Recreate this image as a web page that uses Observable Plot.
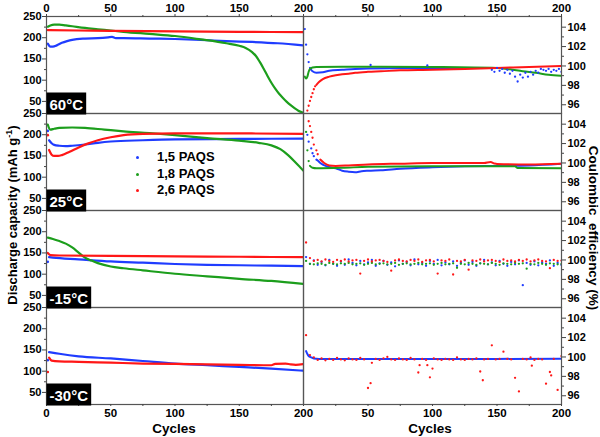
<!DOCTYPE html>
<html><head><meta charset="utf-8">
<script src="https://cdn.jsdelivr.net/npm/d3@7"></script>
<script src="https://cdn.jsdelivr.net/npm/@observablehq/plot@0.6"></script>
<style>
body{margin:0;background:#fff;}
#wrap{position:relative;width:600px;height:437px;font-family:Arial,"Liberation Sans",sans-serif;font-weight:bold;color:#000;overflow:hidden;}
#wrap svg{position:absolute;top:0;}
.ttl{position:absolute;white-space:pre;font-size:13px;font-weight:bold;line-height:1;}
.leg{position:absolute;font-size:13px;font-weight:bold;white-space:nowrap;}
.leg div{height:16.5px;line-height:16.5px;position:relative;padding-left:24px;}
.leg span{position:absolute;left:3px;top:7px;width:3px;height:3px;border-radius:50%;}
</style></head><body><div id="wrap"></div><script>
// ---------- categories ----------
const temps = ["60°C", "25°C", "-15°C", "-30°C"];
const seriesNames = ["1,5 PAQS", "1,8 PAQS", "2,6 PAQS"];
const [S15, S18, S26] = seriesNames;
const capTicks = [50, 100, 150, 200, 250];
const capMinor = [75, 125, 175, 225];
const ceTicks = [96, 98, 100, 102, 104];
const ceMinor = [97, 99, 101, 103];
const cycleTicksLeft = [0, 50, 100, 150, 200];
const cycleTicksRight = [50, 100, 150, 200];
const cycleMinor = [25, 75, 125, 175];

// ---------- discharge capacity (cycle, mAh/g) ----------
const cap60_15 = [[1,186],[3,179],[5,179],[8,182],[12,188],[16,192],[20,195],[30,198],[40,199],[48,201],[51,202],[54,199],[60,199],[80,198],[100,197],[120,195],[140,192],[160,190],[180,187],[200,182]];
const cap60_18 = [[1,226],[3,229],[6,231],[10,231],[15,229],[20,227],[30,223],[40,220],[50,217],[60,214],[80,209],[100,204],[120,196],[140,187],[150,181],[155,176],[160,166],[163,157],[166,143],[169,127],[172,110],[175,94],[178,80],[181,68],[184,58],[187,49],[190,41],[193,34],[196,28],[200,23]];
const cap60_26 = [[1,218],[25,217],[50,216],[100,215],[150,214],[200,213]];
const cap25_15 = [[2,187],[4,180],[6,176],[10,174],[15,173],[20,174],[30,177],[40,181],[50,184],[75,187],[100,189],[150,190],[200,191]];
const cap25_18 = [[1,224],[3,212],[6,214],[10,216],[20,217],[30,216],[45,212],[60,208],[80,204],[100,199],[125,192],[150,186],[165,181],[175,175],[182,166],[188,152],[194,134],[200,115]];
const cap25_26 = [[2,164],[4,153],[6,150],[9,150],[12,152],[18,160],[25,170],[32,179],[40,187],[50,194],[60,199],[75,202],[100,203],[150,203],[200,202]];
const cap15m_15 = [[2,140],[5,139],[25,135],[50,130],[75,127],[100,124],[125,122],[150,121],[175,120],[200,119]];
const cap15m_18 = [[1,186],[5,183],[10,178],[15,172],[20,163],[25,151],[30,139],[35,132],[40,126],[50,118],[60,114],[75,109],[100,101],[125,95],[150,89],[175,84],[200,77]];
const cap15m_26 = [[1,150],[3,145],[10,144],[50,143],[100,142],[150,141],[200,140]];
const cap30m_15 = [[2,145],[10,141],[25,135],[50,130],[75,124],[100,118],[125,114],[150,110],[175,106],[200,101]];
const cap30m_26 = [[2,132],[4,125],[10,123],[25,122],[50,120],[75,118],[100,117],[125,116],[150,115],[175,114],[178,117],[186,118],[190,116],[194,115],[200,117]];
// first-cycle points standing apart from the curves
const capFirst = [["25°C",S15,1,209],["25°C",S26,1,199],["-15°C",S15,1,129],["-30°C",S15,1,126],["-30°C",S26,1,98]];

// ---------- coulombic efficiency (cycle, %) ----------
const ce60_15_dots = [[1,103.8],[2,102.2],[3,101.2],[4,100.4],[52,100.1],[96,100.05]];
const ce60_15_line = [[5,99.8],[7,99.45],[10,99.3],[15,99.35],[20,99.5],[30,99.6],[40,99.7],[50,99.75],[75,99.78],[100,99.8],[145,99.8]];
const ce60_15_tail = [[146,99.6],[148,99.4],[150,99.8],[152,99.5],[154,99.7],[156,99.3],[158,99.6],[160,99.2],[162,99.5],[164,98.9],[166,98.4],[168,99.1],[170,98.8],[172,99.3],[174,98.9],[176,99.4],[178,99.1],[180,99.5],[182,99.3],[184,99.7],[186,99.6],[188,99.5],[190,99.7],[192,99.4],[194,99.6],[196,99.5],[198,99.7],[200,99.4]];
const ce60_18_line = [[1,98.9],[2,98.7],[3,98.9],[4,99.4],[5,99.7],[7,99.85],[10,99.9],[30,99.93],[60,99.93],[100,99.9],[150,99.8],[160,99.65],[170,99.45],[180,99.3],[190,99.1],[200,99.0]];
const ce60_26_dots = [[3,95.4],[4,95.9],[5,96.4],[6,96.8],[7,97.2],[8,97.6],[9,97.9]];
const ce60_26_line = [[10,98.05],[12,98.35],[15,98.65],[20,98.9],[25,99.05],[30,99.15],[35,99.2],[40,99.3],[50,99.4],[60,99.45],[75,99.55],[100,99.6],[125,99.7],[150,99.8],[175,99.9],[200,100.0]];
const ce25_15_dots = [[3,102.9],[4,102.2],[6,101.5],[7,101.0],[8,100.7]];
const ce25_15_line = [[10,100.35],[11,100.25],[13,100.0],[18,99.65],[25,99.45],[30,99.2],[35,99.1],[40,99.05],[45,99.15],[50,99.2],[60,99.25],[75,99.4],[100,99.55],[125,99.65],[150,99.7],[175,99.75],[200,99.93]];
const ce25_18_dots = [[2,103.2],[3,101.3],[4,100.2]];
const ce25_18_line = [[5,99.7],[7,99.5],[10,99.45],[30,99.5],[50,99.6],[100,99.65],[140,99.65],[164,99.65],[166,99.48],[200,99.45]];
const ce25_26_dots = [[4,104.3],[5,103.8],[6,103.2],[7,102.6],[8,101.9],[10,101.3],[11,100.9]];
const ce25_26_line = [[13,100.35],[16,100.0],[20,99.75],[25,99.7],[35,99.75],[50,99.85],[75,99.93],[100,100.0],[140,100.0],[145,100.1],[148,99.95],[150,99.9],[175,99.85],[200,99.93]];
// scattered cycles read every third cycle
const ceCycles = [2,5,8,11,14,17,20,23,26,29,32,35,38,41,44,47,50,53,56,59,62,65,68,71,74,77,80,83,86,89,92,95,98,101,104,107,110,113,116,119,122,125,128,131,134,137,140,143,146,149,152,155,158,161,164,167,170,173,176,179,182,185,188,191,194,197,200];
const ce15m_26 = [101.8,100.2,99.9,100.0,99.85,100.05,99.9,99.8,100.0,99.9,100.05,99.85,99.95,100.0,98.6,99.9,100.05,99.85,99.95,100.0,99.9,99.8,98.9,99.95,100.05,99.9,99.85,100.0,99.9,100.05,99.8,99.95,100.0,99.85,98.6,99.95,99.9,100.05,98.5,99.9,99.85,100.0,99.0,99.95,99.9,100.05,99.85,99.95,100.0,99.9,99.8,100.05,99.9,99.95,99.85,100.0,99.9,100.05,99.85,99.95,100.05,99.9,99.85,99.15,100.0,99.9,99.95];
const ce15m_15 = [100.3,99.6,99.95,99.5,99.8,99.45,100.0,99.6,99.4,99.85,99.5,100.05,99.7,99.45,99.9,99.55,99.75,100.0,99.4,99.65,99.9,99.5,99.75,99.35,99.95,99.6,99.8,99.45,100.05,99.55,99.7,99.4,99.9,99.6,100.0,99.45,99.75,99.55,99.85,99.4,99.7,99.95,99.5,99.8,99.4,99.65,100.0,99.55,99.75,99.45,99.9,99.6,99.4,99.8,99.55,99.95,97.4,99.7,99.5,99.85,99.45,99.75,99.6,99.95,99.4,99.7,99.5];
const ce15m_18 = [99.9,99.6,99.55,99.65,99.6,99.5,99.7,99.6,99.55,99.65,99.6,99.7,99.55,99.6,99.65,99.5,99.6,99.7,99.55,99.6,99.65,99.55,99.6,99.7,99.5,99.6,99.65,99.55,99.6,99.7,99.55,99.6,99.65,99.5,99.6,99.7,99.55,99.6,99.65,99.2,99.6,99.55,99.7,99.6,99.5,99.65,99.6,99.55,99.7,99.6,99.5,99.65,99.6,99.55,99.7,99.6,99.65,99.1,99.6,99.55,99.7,99.6,99.5,99.65,99.6,99.55,99.6];
const ce30m_26 = [102.25,100.2,99.95,99.7,99.85,99.65,99.8,99.7,99.9,99.75,99.65,99.85,99.75,99.7,99.9,99.75,96.8,99.4,99.8,99.7,99.85,100.0,99.75,99.7,99.85,99.75,99.7,99.9,99.75,98.4,99.8,99.7,97.9,99.85,99.75,99.7,99.8,99.75,99.7,99.95,99.75,99.7,99.8,99.75,99.85,98.5,99.75,99.8,101.2,99.75,99.8,100.55,99.8,99.75,97.85,96.45,99.8,99.75,99.95,99.7,99.8,99.75,97.25,98.45,99.8,96.6,100.1];
const ce30m_26_extra = [[52,97.3],[90,99.15],[96,99.15],[100,98.8],[139,97.6],[177,99.1],[192,98.1]];
const ce30m_15_line = [[2,100.6],[3,100.3],[4,100.1],[6,99.95],[8,99.85],[12,99.8],[50,99.78],[100,99.8],[150,99.8],[200,99.82]];

// ---------- styles ----------
const seriesColors = ["#1f3cff", "#1c9e1c", "#ff1717"];
const font = 'Arial, "Liberation Sans", sans-serif';

// ---------- tables ----------
const tbl = (T, s, pts) => pts.map(([c, v]) => ({T, s, c, v}));
const onCycles = vals => ceCycles.map((c, i) => [c, vals[i]]);
const capLines = [
  ...tbl(temps[0], S15, cap60_15), ...tbl(temps[0], S18, cap60_18), ...tbl(temps[0], S26, cap60_26),
  ...tbl(temps[1], S15, cap25_15), ...tbl(temps[1], S18, cap25_18), ...tbl(temps[1], S26, cap25_26),
  ...tbl(temps[2], S15, cap15m_15), ...tbl(temps[2], S18, cap15m_18), ...tbl(temps[2], S26, cap15m_26),
  ...tbl(temps[3], S15, cap30m_15), ...tbl(temps[3], S26, cap30m_26)
];
const capDots = capFirst.map(([T, s, c, v]) => ({T, s, c, v}));
const ceLines = [
  ...tbl(temps[0], S15, ce60_15_line), ...tbl(temps[0], S18, ce60_18_line), ...tbl(temps[0], S26, ce60_26_line),
  ...tbl(temps[1], S15, ce25_15_line), ...tbl(temps[1], S18, ce25_18_line), ...tbl(temps[1], S26, ce25_26_line),
  ...tbl(temps[3], S15, ce30m_15_line)
];
const ceDots = [
  ...tbl(temps[0], S15, ce60_15_dots), ...tbl(temps[0], S15, ce60_15_tail), ...tbl(temps[0], S26, ce60_26_dots),
  ...tbl(temps[1], S15, ce25_15_dots), ...tbl(temps[1], S18, ce25_18_dots), ...tbl(temps[1], S26, ce25_26_dots),
  ...tbl(temps[2], S15, onCycles(ce15m_15)), ...tbl(temps[2], S18, onCycles(ce15m_18)), ...tbl(temps[2], S26, onCycles(ce15m_26)),
  ...tbl(temps[3], S26, onCycles(ce30m_26)), ...tbl(temps[3], S26, ce30m_26_extra)
];

const H = 437, MT = 15, MB = 32;
const common = {
  height: H, marginTop: MT, marginBottom: MB,
  style: {background: "transparent", overflow: "visible", fontFamily: font, fontWeight: "bold", fontSize: "11px", color: "#000"},
  x: {domain: [0, 200]},
  fy: {domain: temps, padding: 0, axis: null, label: null},
  color: {domain: seriesNames, range: seriesColors}
};
const axStyle = {stroke: "#444", strokeWidth: 1};
const noText = () => "";

const left = Plot.plot({
  ...common, width: 303, marginLeft: 46, marginRight: 0,
  y: {domain: [21.5, 250]},
  marks: [
    Plot.line(capLines, {x: "c", y: "v", z: "s", stroke: "s", fy: "T", strokeWidth: 2.2, curve: "monotone-x", clip: true}),
    Plot.dot(capDots, {x: "c", y: "v", fill: "s", fy: "T", r: 1.3}),
    Plot.frame({stroke: "#555", strokeWidth: 1.2}),
    Plot.axisY(capTicks, {anchor: "left", tickSize: 4, tickPadding: 1, label: null, ...axStyle}),
    Plot.axisY(capMinor, {anchor: "left", tickSize: 2, tickFormat: noText, label: null, ...axStyle}),
    Plot.axisX(cycleTicksLeft, {anchor: "top", tickSize: 3, tickPadding: 2, label: null, fontSize: 11.5, ...axStyle}),
    Plot.axisX(cycleMinor, {anchor: "top", tickSize: 2, tickFormat: noText, label: null, ...axStyle}),
    Plot.axisX(cycleTicksLeft, {anchor: "bottom", tickSize: 2, tickPadding: 2, label: null, fontSize: 11.5, ...axStyle}),
    Plot.axisX(cycleMinor, {anchor: "bottom", tickSize: 2, tickFormat: noText, label: null, ...axStyle}),
    Plot.text(temps, {fy: d => d, text: d => d, frameAnchor: "bottom-left", textAnchor: "start", lineAnchor: "bottom", dx: 3, dy: -4, fill: "white", fontSize: 15, fontWeight: "bold"})
  ]
});

const right = Plot.plot({
  ...common, width: 297, marginLeft: 0, marginRight: 39,
  y: {domain: [95.1, 105.1]},
  marks: [
    Plot.line(ceLines, {x: "c", y: "v", z: "s", stroke: "s", fy: "T", strokeWidth: 2, curve: "monotone-x", clip: true}),
    Plot.dot(ceDots, {x: "c", y: "v", fill: "s", fy: "T", r: 1.15, clip: true}),
    Plot.frame({stroke: "#555", strokeWidth: 1.2}),
    Plot.axisY(ceTicks, {anchor: "right", tickSize: 4, tickPadding: 2, label: null, ...axStyle}),
    Plot.axisY(ceMinor, {anchor: "right", tickSize: 2, tickFormat: noText, label: null, ...axStyle}),
    Plot.axisX(cycleTicksRight, {anchor: "top", tickSize: 3, tickPadding: 2, label: null, fontSize: 11.5, ...axStyle}),
    Plot.axisX(cycleMinor, {anchor: "top", tickSize: 2, tickFormat: noText, label: null, ...axStyle}),
    Plot.axisX(cycleTicksRight, {anchor: "bottom", tickSize: 2, tickPadding: 2, label: null, fontSize: 11.5, ...axStyle}),
    Plot.axisX(cycleMinor, {anchor: "bottom", tickSize: 2, tickFormat: noText, label: null, ...axStyle})
  ]
});

const wrap = document.getElementById("wrap");
left.style.left = "0px";
right.style.left = "303px";
wrap.appendChild(left);
wrap.appendChild(right);

// black boxes behind the temperature labels
left.querySelectorAll('g[fill="white"] text').forEach(t => {
  const b = t.getBBox();
  const r = document.createElementNS("http://www.w3.org/2000/svg", "rect");
  r.setAttribute("x", b.x - 3);
  r.setAttribute("y", b.y - 3);
  r.setAttribute("width", b.width + 6);
  r.setAttribute("height", b.height + 5);
  r.setAttribute("fill", "black");
  if (t.getAttribute("transform")) r.setAttribute("transform", t.getAttribute("transform"));
  t.parentNode.insertBefore(r, t);
});

// titles
function addDiv(cls, html, css) {
  const d = document.createElement("div");
  d.className = cls; d.innerHTML = html;
  Object.assign(d.style, css);
  wrap.appendChild(d);
  return d;
}
addDiv("ttl", 'Discharge capacity (mAh g<sup style="font-size:9px;vertical-align:5px">-1</sup>)',
  {left: "12px", top: "215px", transform: "translate(-50%,-50%) rotate(-90deg)"});
addDiv("ttl", "Coulombic  efficiency (%)",
  {left: "593px", top: "228px", transform: "translate(-50%,-50%) rotate(90deg)", fontSize: "13.5px"});
addDiv("ttl", "Cycles", {left: "174px", top: "429px", transform: "translate(-50%,-50%)", fontSize: "13.5px"});
addDiv("ttl", "Cycles", {left: "430px", top: "429px", transform: "translate(-50%,-50%)", fontSize: "13.5px"});
addDiv("leg", seriesNames.map((s, i) => `<div><span style="background:${seriesColors[i]}"></span>${s}</div>`).join(""),
  {left: "133px", top: "149px"});
</script></body></html>
